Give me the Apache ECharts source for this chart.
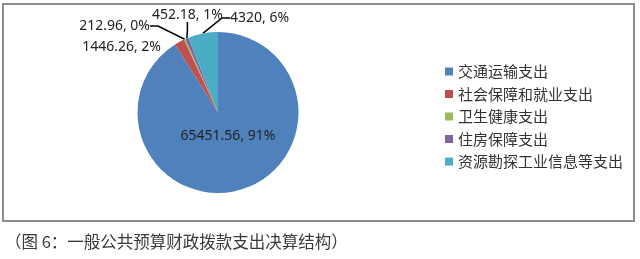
<!DOCTYPE html>
<html><head><meta charset="utf-8">
<script src="https://cdn.jsdelivr.net/npm/echarts@6/dist/echarts.min.js"></script>
<style>html,body{margin:0;padding:0;background:#fff}#c{width:640px;height:259px}</style>
</head><body><div id="c"></div>
<script>
const categories = ['交通运输支出','社会保障和就业支出','卫生健康支出','住房保障支出','资源勘探工业信息等支出'];
const values = [65451.56, 1446.26, 212.96, 452.18, 4320];
const percentLabels = ['91%','2%','0%','1%','6%'];
const valueLabels = ['65451.56','1446.26','212.96','452.18','4320'];
const colors = ['#4F81BD','#C0504D','#9BBB59','#8064A2','#4BACC6'];
const caption = '（图 6：一般公共预算财政拨款支出决算结构）';

// label placement (x, y, align) per slice
const labelPos = [
  {x: 228, y: 136, align: 'center'},
  {x: 161, y: 47, align: 'right'},
  {x: 150, y: 26, align: 'right'},
  {x: 152, y: 15, align: 'left'},
  {x: 230, y: 18, align: 'left'}
];

const chart = echarts.init(document.getElementById('c'));
chart.setOption({
  animation: false,
  color: colors,
  graphic: [
    {type: 'rect', shape: {x: 3, y: 4, width: 631, height: 217},
     style: {fill: 'none', stroke: '#8c8c8c', lineWidth: 2}, z: -1},
    {type: 'text', left: 5, top: 233,
     style: {text: caption, font: '16.5px "Noto Sans CJK SC"', fill: '#3a3a3a'}}
  ],
  legend: {
    orient: 'vertical', left: 440, top: 59,
    icon: 'rect', itemWidth: 8, itemHeight: 8, itemGap: 7.5,
    textStyle: {fontSize: 15, color: '#333', fontFamily: '"Noto Sans CJK SC"'},
    data: categories
  },
  series: [{
    type: 'pie',
    center: [218, 112.5],
    radius: [0, 80.5],
    startAngle: 90,
    clockwise: true,
    data: categories.map((n, i) => ({
      name: n, value: values[i],
      label: {formatter: valueLabels[i] + ', ' + percentLabels[i]},
      labelLine: {show: i !== 0 && i !== 1}
    })),
    label: {
      show: true, color: '#222', fontSize: 14, fontFamily: '"Noto Sans", sans-serif'
    },
    labelLine: {show: true, length: 8, length2: 8, lineStyle: {color: '#000', width: 1.5}},
    labelLayout: function (p) {
      const lp = labelPos[p.dataIndex];
      return {x: lp.x, y: lp.y, align: lp.align, verticalAlign: 'middle'};
    },
    itemStyle: {borderColor: '#fff', borderWidth: 0}
  }]
});
</script></body></html>
